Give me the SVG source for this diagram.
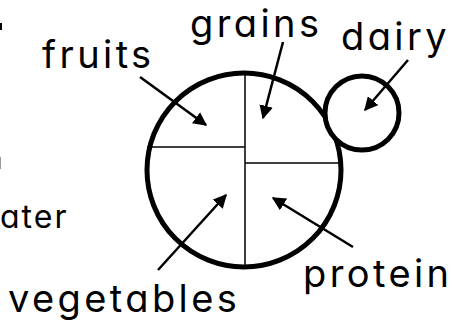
<svg xmlns="http://www.w3.org/2000/svg" width="452" height="320" viewBox="0 0 452 320">
<defs>
<style>
.lbl{font-family:Inter,"Liberation Sans",sans-serif;font-size:38px;fill:#000;letter-spacing:3.4px;font-feature-settings:"cv11" 1;}
.small{font-size:32px;letter-spacing:2px;}
.ring{fill:#fff;stroke:#000;stroke-width:5;}
.div{stroke:#000;stroke-width:1.5;fill:none;}
.arr{stroke:#000;stroke-width:2.5;fill:none;marker-end:url(#ah);}
</style>
<marker id="ah" viewBox="0 0 10 10" refX="9" refY="5" markerWidth="5.5" markerHeight="5.5" markerUnits="strokeWidth" orient="auto">
<path d="M0,0 L10,5 L0,10 Z" fill="#000"/>
</marker>
</defs>
<rect width="452" height="320" fill="#fff"/>
<g id="plate">
<circle class="ring" cx="244" cy="170" r="97"/>
<line class="div" x1="245" y1="73" x2="245" y2="267"/>
<line class="div" x1="147" y1="147" x2="245" y2="147"/>
<line class="div" x1="245" y1="163" x2="340" y2="163"/>
</g>
<g id="dairy-cup">
<circle class="ring" cx="362" cy="113" r="37"/>
</g>
<g id="edge-marks">
<rect x="0" y="23" width="2" height="7" fill="#000"/>
<rect x="0" y="157" width="1" height="12" fill="#999"/>
</g>
<g id="label-fruits"><text class="lbl" x="42" y="68">fruits</text></g>
<g id="label-grains"><text class="lbl" x="190" y="37">grains</text></g>
<g id="label-dairy"><text class="lbl" x="341" y="50">dairy</text></g>
<g id="label-protein"><text class="lbl" x="303" y="287">protein</text></g>
<g id="label-vegetables"><text class="lbl" x="8" y="312">vegetables</text></g>
<g id="label-water"><text class="lbl small" x="0" y="228">ater</text></g>
<g id="connectors">
<line class="arr" x1="140" y1="77" x2="206" y2="125"/>
<line class="arr" x1="283" y1="42" x2="263" y2="118"/>
<line class="arr" x1="408" y1="60" x2="365" y2="110"/>
<line class="arr" x1="158" y1="270" x2="226" y2="195"/>
<line class="arr" x1="353" y1="247" x2="273" y2="198"/>
</g>
</svg>
